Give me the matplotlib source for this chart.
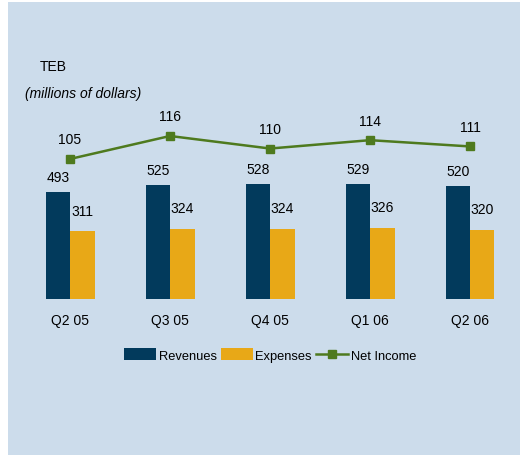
import matplotlib.pyplot as plt
from matplotlib.patches import Rectangle

plt.rcParams['font.family'] = ['Liberation Sans', 'DejaVu Sans']

quarters = ['Q2 05', 'Q3 05', 'Q4 05', 'Q1 06', 'Q2 06']
revenues = [493, 525, 528, 529, 520]
expenses = [311, 324, 324, 326, 320]
net_income = [105, 116, 110, 114, 111]

navy = '#023A5C'
gold = '#E8A817'
green = '#4E7A1E'
bg = '#CCDCEB'

fig = plt.figure(figsize=(5.2, 4.56), dpi=100)
fig.patch.set_facecolor('white')
fig.patches.append(Rectangle((8 / 520, 0), 1, 1 - 3 / 456, transform=fig.transFigure,
                             facecolor=bg, edgecolor='none', zorder=-10))

ax = fig.add_axes([20 / 520, 156 / 456, 500 / 520, 200 / 456])
ax.patch.set_visible(False)
x = list(range(len(quarters)))
w = 0.245
ax.bar([i - w / 2 for i in x], revenues, w, color=navy, label='Revenues')
ax.bar([i + w / 2 for i in x], expenses, w, color=gold, label='Expenses')
for i in x:
    ax.annotate(str(revenues[i]), (i - w / 2, revenues[i]), xytext=(0, 6),
                textcoords='offset points', ha='center', va='bottom', fontsize=10)
    ax.annotate(str(expenses[i]), (i + w / 2, expenses[i]), xytext=(0, 10),
                textcoords='offset points', ha='center', va='bottom', fontsize=10)
ax.set_xlim(-0.5, 4.5)
ax.set_ylim(0, 921)
ax.set_xticks(x)
ax.set_xticklabels(quarters, fontsize=10)
ax.tick_params(axis='x', length=0, pad=10)
ax.set_yticks([])
for s in ax.spines.values():
    s.set_visible(False)

ax2 = ax.twinx()
ax2.plot(x, net_income, color=green, marker='s', markersize=6, linewidth=1.8,
         label='Net Income')
for i in x:
    ax2.annotate(str(net_income[i]), (i, net_income[i]), xytext=(0, 9),
                 textcoords='offset points', ha='center', va='bottom', fontsize=10)
ax2.set_ylim(38, 133.7)
ax2.set_yticks([])
for s in ax2.spines.values():
    s.set_visible(False)

fig.text(40 / 520, 1 - 67 / 456, 'TEB', fontsize=10, va='center')
fig.text(25 / 520, 1 - 94 / 456, '(millions of dollars)', fontsize=10,
         style='italic', va='center')

h1, l1 = ax.get_legend_handles_labels()
h2, l2 = ax2.get_legend_handles_labels()
fig.legend(h1 + h2, l1 + l2, loc='center', bbox_to_anchor=(270 / 520, 1 - 356 / 456),
           ncol=3, frameon=False, fontsize=9.3, handlelength=2.5, handleheight=1.0,
           columnspacing=0.3, handletextpad=0.2)

fig.savefig('out.png', dpi=100, facecolor=fig.get_facecolor())
